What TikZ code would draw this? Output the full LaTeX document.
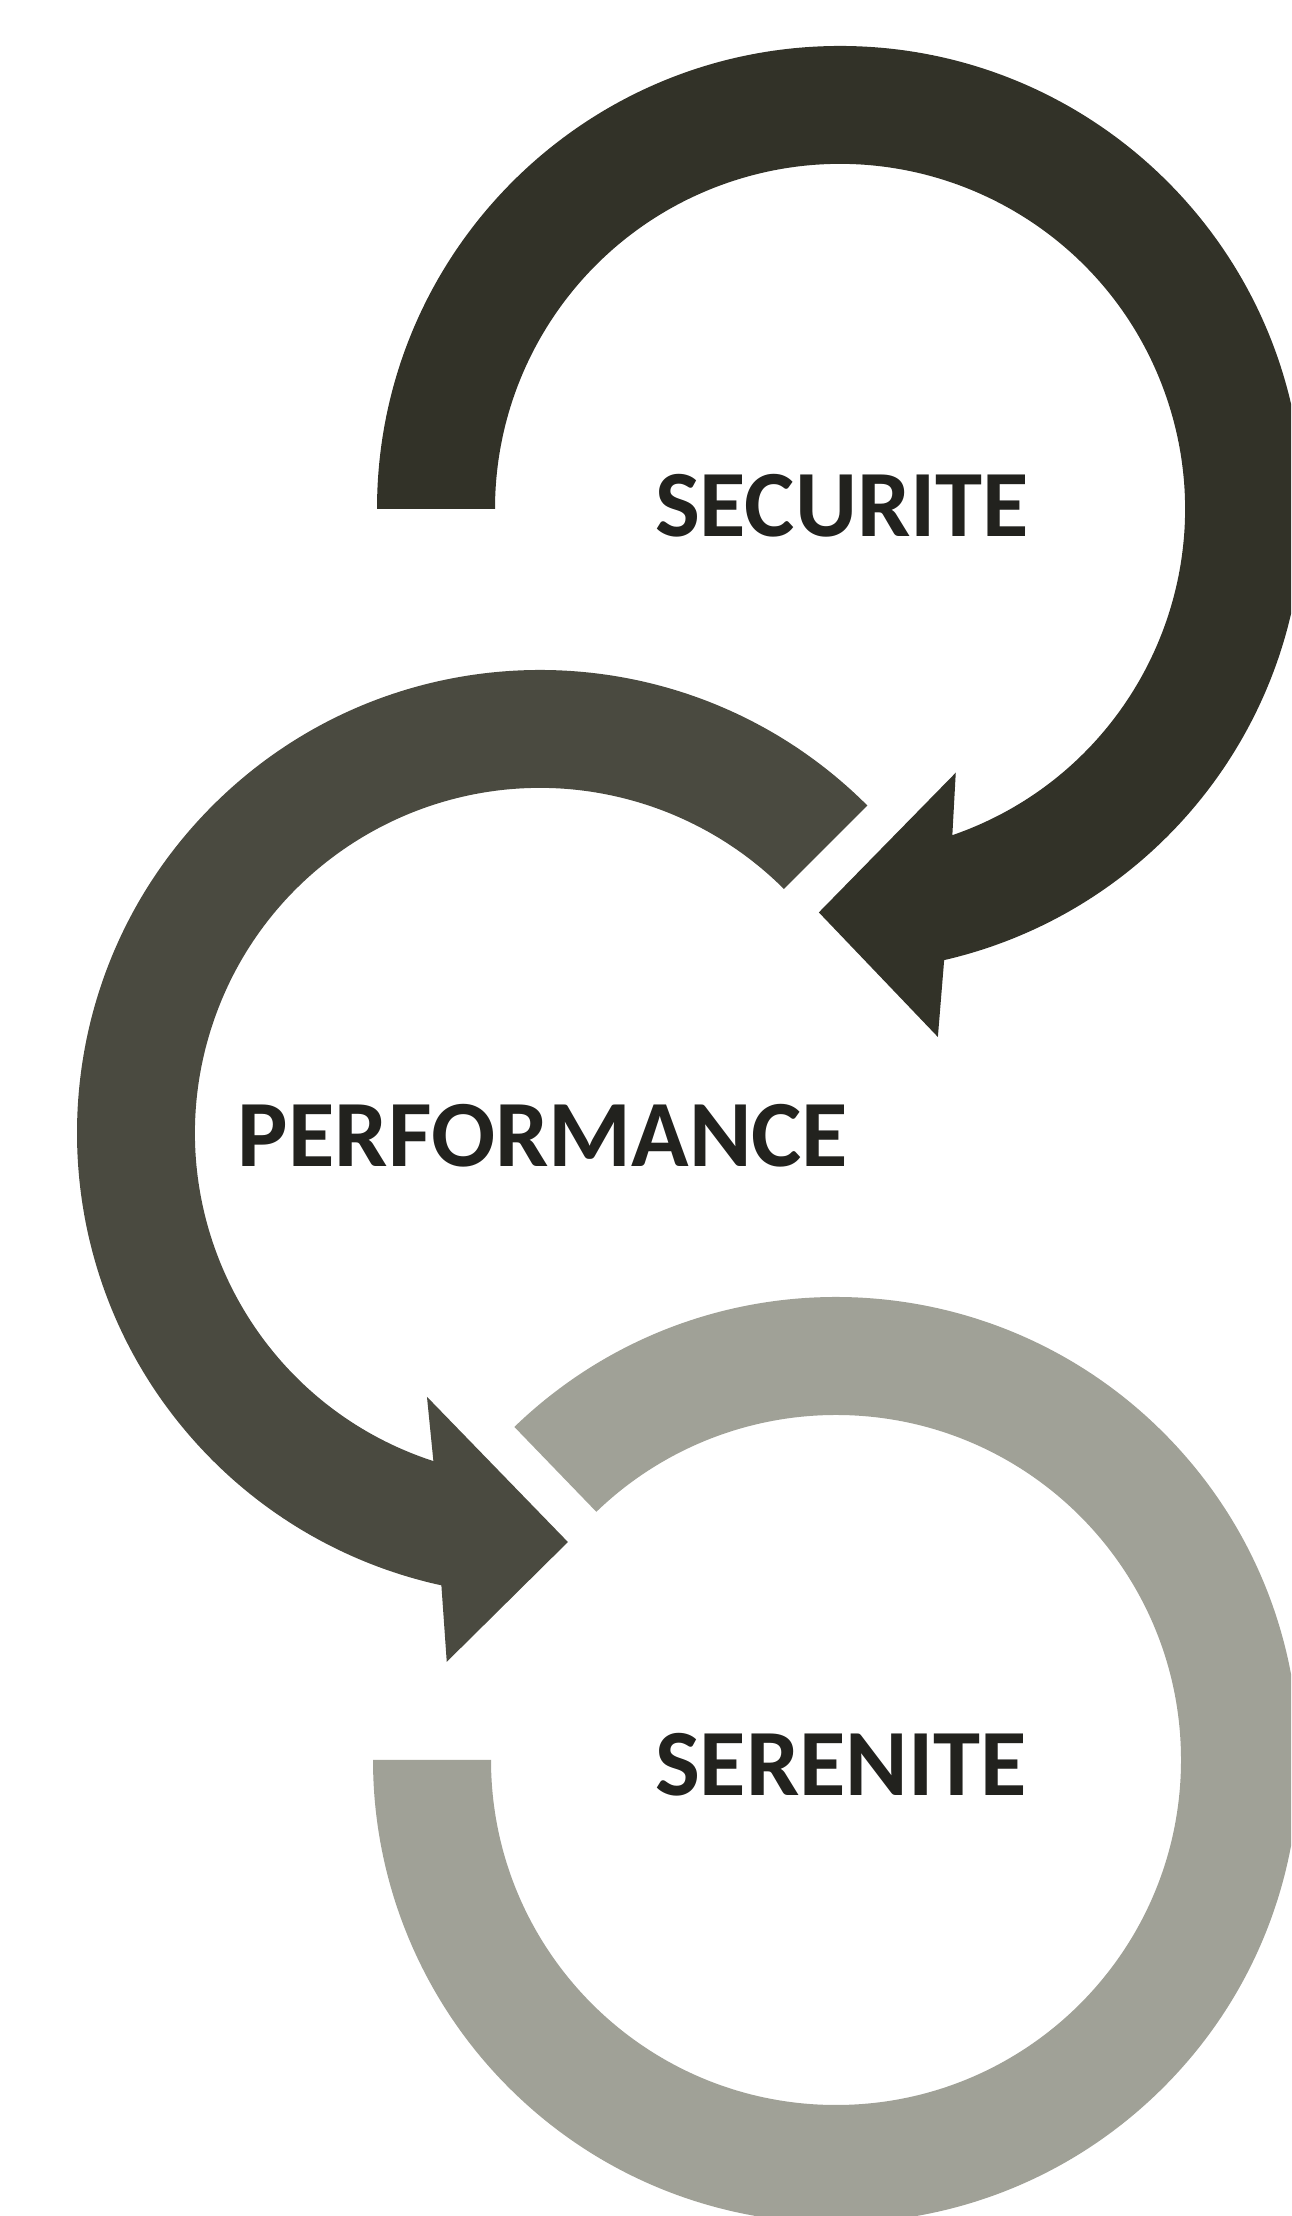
\documentclass[tikz,border=0pt]{standalone}
\usepackage{fontspec}
\setmainfont{Carlito}
\usetikzlibrary{backgrounds}

\definecolor{securite}{RGB}{50,50,40}
\definecolor{performance}{RGB}{74,74,64}
\definecolor{serenite}{RGB}{160,161,151}
\definecolor{labeltext}{RGB}{34,34,30}

\begin{document}
\begin{tikzpicture}[
    x=0.1mm, y=0.1mm,
    background rectangle/.style={fill=white}, show background rectangle,
    ringlabel/.style={font=\fontsize{27}{32}\selectfont\bfseries, text=labeltext, inner sep=0pt, anchor=base}]

    % page frame 1291 x 2216
    \useasboundingbox (0,0) rectangle (1291,2216);
    \clip (0,0) rectangle (1291,2216);

    % centres of the three rings
    \coordinate (sec) at (840,1707);
    \coordinate (perf) at (540,1083);
    \coordinate (seren) at (836,456);

    % top ring, clockwise from the flat end on the left, head at the bottom
    \fill [securite, shift={(sec)}] (180:463) arc [start angle=180, end angle=-77, radius=463]
        -- (-79.5:537) -- (-93:404) -- (-66.3:288) -- (-71:345)
        arc [start angle=-71, end angle=180, radius=345] -- cycle;
    \node [ringlabel] at (842,1679) (securitelbl) {SECURITE};

    % middle ring, anticlockwise from the cut at 45 degrees
    \fill [performance, shift={(perf)}] (45:463) arc [start angle=45, end angle=257.7, radius=463]
        -- (260:537) -- (273.9:410) -- (246.8:287) -- (252:345)
        arc [start angle=252, end angle=45, radius=345] -- cycle;
    \node [ringlabel] at (543,1049) (performancelbl) {PERFORMANCE};

    % bottom ring, no head
    \fill [serenite, shift={(seren)}] (134:463) arc [start angle=134, end angle=-180, radius=463]
        -- (-180:345) arc [start angle=-180, end angle=134, radius=345] -- cycle;
    \node [ringlabel] at (841,420) (serenitelbl) {SERENITE};

\end{tikzpicture}
\end{document}
